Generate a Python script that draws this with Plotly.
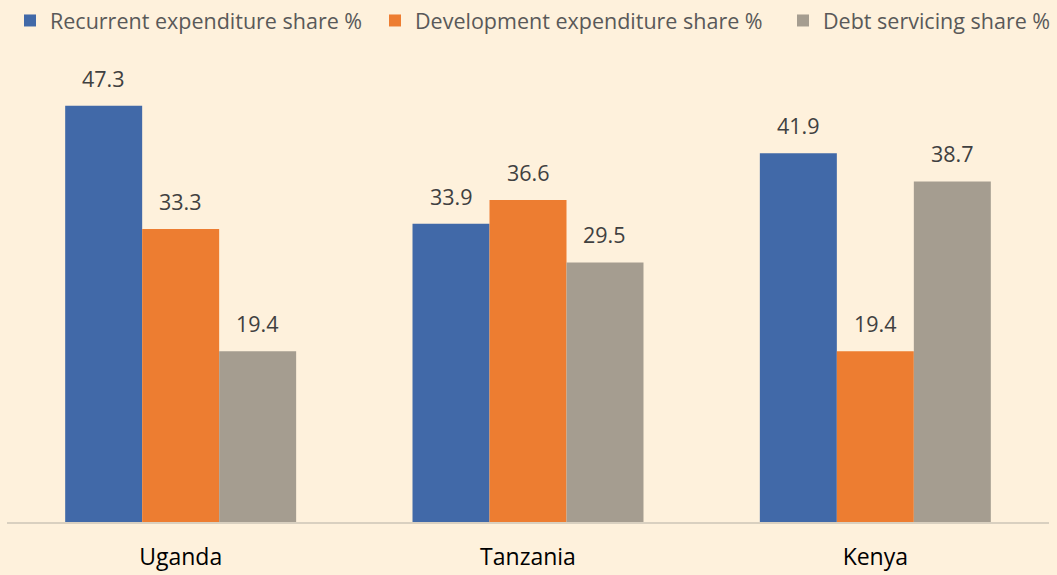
import plotly.graph_objects as go

countries = ["Uganda", "Tanzania", "Kenya"]
series_names = ["Recurrent expenditure share %", "Development expenditure share %", "Debt servicing share %"]
recurrent = [47.3, 33.9, 41.9]
development = [33.3, 36.6, 19.4]
debt = [19.4, 29.5, 38.7]
values = [recurrent, development, debt]
colors = ["#4169A8", "#ED7D31", "#A59D90"]

W, H = 1057, 575
BG = "#FEF1DC"
bargap = 0.335
ngroups = 3
w = (1 - bargap) / ngroups

fig = go.Figure()
legend_names = ["legend", "legend2", "legend3"]
for j, (name, vals, col) in enumerate(zip(series_names, values, colors)):
    fig.add_trace(go.Bar(
        x=countries, y=vals, name=name, marker=dict(color=col, line=dict(width=0)),
        legend=legend_names[j], hoverinfo="y+name",
    ))
    for i, v in enumerate(vals):
        fig.add_annotation(
            x=i + (j - 1) * w, y=v, xref="x", yref="y", text=f"{v:.1f}",
            showarrow=False, yanchor="bottom", xanchor="center", yshift=11,
            font=dict(family="Open Sans", size=21.5, color="#404040"),
        )

legend_x_px = [10, 375, 783]
legend_common = dict(orientation="h", xref="container", yref="container", yanchor="top",
                     xanchor="left", y=1.0, bgcolor="rgba(0,0,0,0)",
                     font=dict(family="Open Sans", size=21.5, color="#595959"))
layout_legends = {}
for k, ln in enumerate(legend_names):
    layout_legends[ln] = dict(legend_common, x=legend_x_px[k] / W)

fig.update_layout(
    width=W, height=H,
    paper_bgcolor=BG, plot_bgcolor=BG,
    margin=dict(l=7, r=8, t=40, b=53, autoexpand=False),
    barmode="group", bargap=bargap, bargroupgap=0,
    showlegend=True,
    **layout_legends,
)
fig.update_xaxes(
    showline=True, linecolor="#D9D0C0", linewidth=2, showgrid=False, zeroline=False,
    tickfont=dict(family="Open Sans", size=23, color="#000000"), ticks="",
    ticklabelstandoff=13, fixedrange=True,
)
fig.update_yaxes(
    range=[0, 482 / 8.8], showgrid=False, zeroline=False, showticklabels=False,
    showline=False, fixedrange=True,
)

fig.write_html(
    "out.html",
    config={"displayModeBar": False},
    post_script="document.body.style.margin='0';document.body.style.padding='0';document.body.style.overflow='hidden';",
)
